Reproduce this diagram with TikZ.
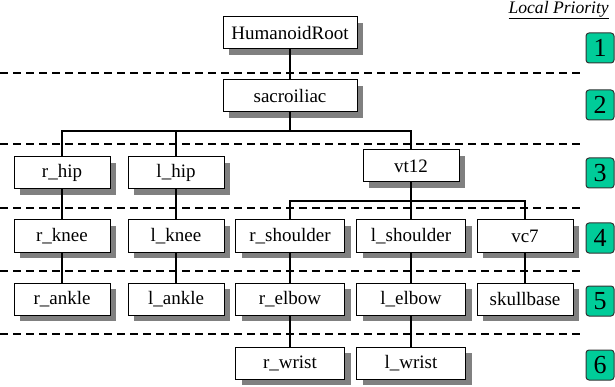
\documentclass[tikz,border=0pt]{standalone}
\usepackage{fontspec}
\setmainfont{Liberation Serif}
\usepackage{tikz}
\usetikzlibrary{shadows}
\definecolor{prio}{rgb}{0,.8,.6}

\begin{document}
\begin{tikzpicture}[x=1pt, y=-1pt, align=center,
	jbox/.style={rectangle,draw=black,line width=1pt,fill=white,minimum width=96pt,minimum height=32pt,inner sep=0pt,font=\fontsize{19}{21}\selectfont,drop shadow={shadow xshift=6pt,shadow yshift=-6pt,fill=black!50,opacity=1}},
	wbox/.style={jbox,minimum width=109pt},
	pbox/.style={rectangle,rounded corners=3pt,draw=black!80,line width=1pt,fill=prio,minimum width=28pt,minimum height=30pt,inner sep=0pt,font=\fontsize{26}{28}\selectfont},
	link/.style={line width=2pt},
	level/.style={line width=2pt,dash pattern=on 8pt off 5pt}]
	\useasboundingbox (0,0) rectangle (615,387);
	% \draw[help lines] (0,0) grid (615,387);
	\foreach \y in {73,144,208,271,334}
		\draw[level] (0,\y) -- (580,\y);
	\node[anchor=north east,inner sep=0pt,font=\fontsize{17.6}{20}\selectfont](lp) at (609,1){\underline{\textit{Local Priority}}};
	\foreach \n/\y in {1/48,2/105,3/173,4/238,5/301,6/365}
		\node[pbox](p\n) at (600,\y){\n};

	\node[jbox,minimum width=134pt](hroot) at (290,33){HumanoidRoot};
	\node[jbox,minimum width=134pt](sacro) at (290,96){sacroiliac};
	\node[jbox](rhip) at (62,173){r\_hip};
	\node[jbox](lhip) at (176,173){l\_hip};
	\node[jbox](vt12) at (411,166){vt12};
	\node[jbox](rknee) at (62,236){r\_knee};
	\node[jbox](lknee) at (176,236){l\_knee};
	\node[wbox](rshoulder) at (290,236){r\_shoulder};
	\node[wbox](lshoulder) at (411,236){l\_shoulder};
	\node[jbox](vc7) at (525,236){vc7};
	\node[jbox](rankle) at (62,299){r\_ankle};
	\node[jbox](lankle) at (176,299){l\_ankle};
	\node[wbox](relbow) at (290,299){r\_elbow};
	\node[wbox](lelbow) at (411,299){l\_elbow};
	\node[jbox](skull) at (525,299){skullbase};
	\node[wbox](rwrist) at (290,363){r\_wrist};
	\node[wbox](lwrist) at (411,363){l\_wrist};

	\coordinate (hipbar) at (0,131);
	\coordinate (armbar) at (0,201);
	\draw[link] (hroot) -- (sacro);
	\draw[link] (sacro.south) -- (sacro.south |- hipbar);
	\draw[link] (rhip.north) |- (hipbar -| vt12.north) -- (vt12.north);
	\draw[link] (lhip.north) -- (lhip.north |- hipbar);
	\draw[link] (vt12.south) -- (vt12.south |- armbar);
	\draw[link] (rshoulder.north) |- (armbar -| vc7.north) -- (vc7.north);
	\draw[link] (lshoulder.north) -- (lshoulder.north |- armbar);
	\draw[link] (rhip) -- (rknee);
	\draw[link] (lhip) -- (lknee);
	\draw[link] (rknee) -- (rankle);
	\draw[link] (lknee) -- (lankle);
	\draw[link] (rshoulder) -- (relbow);
	\draw[link] (lshoulder) -- (lelbow);
	\draw[link] (vc7) -- (skull);
	\draw[link] (relbow) -- (rwrist);
	\draw[link] (lelbow) -- (lwrist);
\end{tikzpicture}
\end{document}
